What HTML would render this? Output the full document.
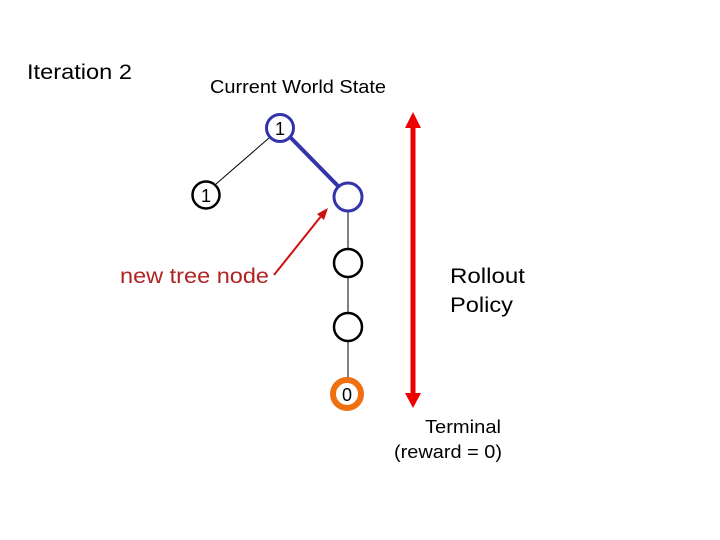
<!DOCTYPE html>
<html><head><style>body{margin:0;background:#fff}svg{display:block}</style></head>
<body>
<svg width="720" height="540" xmlns="http://www.w3.org/2000/svg" font-family="Liberation Sans, Arial, sans-serif">
<text x="27" y="79" font-size="21" textLength="105" lengthAdjust="spacingAndGlyphs">Iteration 2</text>
<text x="210" y="93" font-size="18.5" textLength="176" lengthAdjust="spacingAndGlyphs">Current World State</text>
<line x1="269" y1="138" x2="216" y2="184" stroke="#000" stroke-width="1"/>
<line x1="290" y1="137" x2="339" y2="187" stroke="#3333aa" stroke-width="4"/>
<line x1="348" y1="211" x2="348" y2="380" stroke="#000" stroke-width="1"/>
<circle cx="280" cy="128" r="13.5" fill="#fff" stroke="#3333aa" stroke-width="3"/>
<text x="280" y="135" font-size="18" text-anchor="middle">1</text>
<circle cx="206" cy="195" r="13.5" fill="#fff" stroke="#000" stroke-width="2.5"/>
<text x="206" y="202" font-size="18" text-anchor="middle">1</text>
<circle cx="348" cy="197" r="14" fill="#fff" stroke="#3333aa" stroke-width="3"/>
<circle cx="348" cy="263" r="14" fill="#fff" stroke="#000" stroke-width="2.5"/>
<circle cx="348" cy="327" r="14" fill="#fff" stroke="#000" stroke-width="2.5"/>
<circle cx="347" cy="394" r="14" fill="#fff" stroke="#f07010" stroke-width="6"/>
<text x="347" y="401" font-size="18" text-anchor="middle">0</text>
<line x1="413" y1="125" x2="413" y2="395" stroke="#ee0000" stroke-width="5"/>
<polygon points="413,112 405,128 421,128" fill="#ee0000"/>
<polygon points="413,408 405,393 421,393" fill="#ee0000"/>
<line x1="274" y1="275" x2="322" y2="215" stroke="#cc1111" stroke-width="2"/>
<polygon points="328,208 317,214 324,220" fill="#cc1111"/>
<text x="120" y="283" font-size="21" fill="#b22222" textLength="149" lengthAdjust="spacingAndGlyphs">new tree node</text>
<text x="450" y="283" font-size="21" textLength="75" lengthAdjust="spacingAndGlyphs">Rollout</text>
<text x="450" y="312" font-size="21" textLength="63" lengthAdjust="spacingAndGlyphs">Policy</text>
<text x="425" y="433" font-size="18.5" textLength="76" lengthAdjust="spacingAndGlyphs">Terminal</text>
<text x="394" y="458" font-size="18.5" textLength="108" lengthAdjust="spacingAndGlyphs">(reward = 0)</text>
</svg>
</body></html>
